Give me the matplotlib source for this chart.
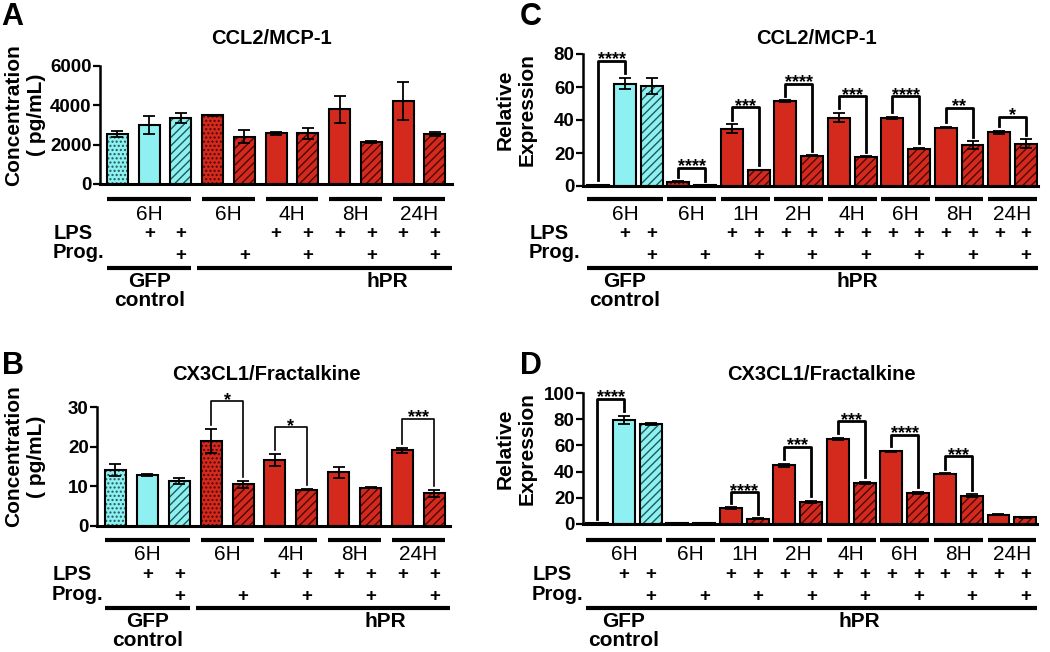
import matplotlib
matplotlib.use('Agg')
import matplotlib.pyplot as plt
import matplotlib.transforms as mtransforms
import numpy as np

plt.rcParams['font.family'] = ['Liberation Sans', 'DejaVu Sans']
plt.rcParams['hatch.linewidth'] = 1.0

W, H = 1050, 652
CYAN = '#8ef0f0'
RED = '#d42a1e'
CYAN_HATCH = '#1f5a5a'
RED_HATCH = '#4a0805'

# ---- panel A: CCL2/MCP-1 protein
a_vals = [2540, 3000, 3370, 3500, 2400, 2570, 2570, 3790, 2150, 4230, 2540]
a_errs = [150, 480, 250, 20, 330, 80, 290, 690, 50, 970, 80]
a_lps = [0, 1, 1, 0, 0, 1, 1, 1, 1, 1, 1]
a_prog = [0, 0, 1, 0, 1, 0, 1, 0, 1, 0, 1]
a_times = ['6H', '6H', '4H', '8H', '24H']
a_groups = [3, 2, 2, 2, 2]
a_brackets = []

# ---- panel B: CX3CL1/Fractalkine protein
b_vals = [14.1, 12.8, 11.3, 21.4, 10.5, 16.6, 9.2, 13.6, 9.7, 19.1, 8.2]
b_errs = [1.5, 0.3, 0.8, 3.1, 0.8, 1.5, 0.1, 1.4, 0.2, 0.6, 0.9]
b_lps = a_lps
b_prog = a_prog
b_times = ['6H', '6H', '4H', '8H', '24H']
b_groups = [3, 2, 2, 2, 2]
b_brackets = [(3, 4, 31.4, '*'), (5, 6, 24.9, '*'), (9, 10, 27.1, '***')]

# ---- panel C: CCL2/MCP-1 mRNA
c_vals = [0.8, 62.0, 60.7, 2.5, 0.4, 34.6, 9.7, 51.6, 18.2, 41.5, 17.8,
          41.5, 22.7, 35.4, 24.9, 32.6, 25.5]
c_errs = [0, 3.5, 4.8, 0.3, 0, 2.7, 0.3, 0.4, 0.3, 2.8, 0.3,
          0.6, 0.3, 0.5, 2.3, 1.0, 2.7]
c_lps = [0, 1, 1, 0, 0] + [1] * 12
c_prog = [0, 0, 1, 0, 1] + [0, 1] * 6
c_times = ['6H', '6H', '1H', '2H', '4H', '6H', '8H', '24H']
c_groups = [3, 2, 2, 2, 2, 2, 2, 2]
c_brackets = [(0, 1, 75.9, '****'), (3, 4, 11.1, '****'), (5, 6, 47.6, '***'),
              (7, 8, 61.8, '****'), (9, 10, 54.3, '***'), (11, 12, 54.3, '****'),
              (13, 14, 47.2, '**'), (15, 16, 42.1, '*')]

# ---- panel D: CX3CL1/Fractalkine mRNA
d_vals = [0.5, 79.6, 76.3, 0.5, 0.8, 12.2, 4.0, 44.8, 16.8, 64.9, 31.3,
          55.4, 23.6, 38.2, 21.6, 7.1, 5.0]
d_errs = [0, 3.0, 1.0, 0, 0, 0.4, 0.3, 1.0, 1.0, 0.8, 1.0,
          0.3, 0.8, 0.4, 1.0, 0.3, 0.3]
d_lps = c_lps
d_prog = c_prog
d_times = c_times
d_groups = c_groups
d_brackets = [(0, 1, 95.4, '****'), (5, 6, 24.1, '****'), (7, 8, 58.8, '***'),
              (9, 10, 78.3, '***'), (11, 12, 68.2, '****'), (13, 14, 51.6, '***')]


def fx(px):
    return px / W


def fy(py):
    return 1 - py / H


def panel(rect, vals, errs, lps, prog, times, groups, brackets,
          ymax, yticks, xlim, width, title, title_xy, ylabel, ylabel_x,
          letter, letter_xy, rows, lab_x, hpr_x, br_lw):
    l, r, t, b = rect
    ax = fig.add_axes([fx(l), fy(b), fx(r - l), (b - t) / H])
    n = len(vals)
    x = np.arange(n)
    ngfp = groups[0]
    for i in range(n):
        gfp = i < ngfp
        col = CYAN if gfp else RED
        hcol = CYAN_HATCH if gfp else RED_HATCH
        if prog[i]:
            hatch = '////'
        elif not lps[i]:
            hatch = '....'
        else:
            hatch = None
        ax.bar(x[i], vals[i], width, color=col, edgecolor=hcol,
               linewidth=0, hatch=hatch, zorder=2)
        ax.bar(x[i], vals[i], width, fill=False, edgecolor='black',
               linewidth=1.5, zorder=2)
    ax.errorbar(x, vals, yerr=errs, fmt='none', ecolor='black',
                elinewidth=1.3, capsize=4, capthick=1.3, zorder=3)
    ax.set_xlim(*xlim)
    ax.set_ylim(0, ymax)
    ax.set_yticks(yticks)
    ax.set_xticks([])
    for s in ['top', 'right']:
        ax.spines[s].set_visible(False)
    ax.spines['left'].set_linewidth(1.8)
    ax.spines['bottom'].set_linewidth(2.2)
    ax.tick_params(axis='y', width=1.6, length=5, labelsize=13.5, pad=1)
    for lab in ax.get_yticklabels():
        lab.set_fontweight('bold')

    gap = 0.035 * ymax
    for i, j, top, txt in brackets:
        yl = vals[i] + errs[i] + gap
        yr = vals[j] + errs[j] + gap
        ax.plot([x[i], x[i], x[j], x[j]], [yl, top, top, yr], color='black',
                lw=br_lw, clip_on=False, zorder=4)
        ax.annotate(txt, xy=((x[i] + x[j]) / 2, top), xytext=(0, -2.5),
                    textcoords='offset points', ha='center', va='baseline',
                    fontsize=13, fontweight='bold', annotation_clip=False)

    tr = mtransforms.blended_transform_factory(ax.transData, fig.transFigure)
    y_grp, y_time, y_lps, y_prog, y_base, y_name, y_ctrl = rows
    start = 0
    for g, tname in zip(groups, times):
        x0 = x[start] - width / 2
        x1 = x[start + g - 1] + width / 2
        ax.plot([x0, x1], [fy(y_grp)] * 2, color='black', lw=3,
                transform=tr, clip_on=False, solid_capstyle='butt')
        ax.text((x0 + x1) / 2, fy(y_time), tname, transform=tr, ha='center',
                va='center', fontsize=15)
        start += g
    for i in range(n):
        if lps[i]:
            ax.text(x[i], fy(y_lps), '+', transform=tr, ha='center',
                    va='center', fontsize=13.5, fontweight='bold')
        if prog[i]:
            ax.text(x[i], fy(y_prog), '+', transform=tr, ha='center',
                    va='center', fontsize=13.5, fontweight='bold')
    ax.plot([x[0] - width / 2, x[ngfp - 1] + width / 2], [fy(y_base)] * 2,
            color='black', lw=3, transform=tr, clip_on=False,
            solid_capstyle='butt')
    ax.plot([x[ngfp] - width / 2 - 0.15, xlim[1]], [fy(y_base)] * 2,
            color='black', lw=3, transform=tr, clip_on=False,
            solid_capstyle='butt')
    gc = (x[0] + x[ngfp - 1]) / 2
    ax.text(gc, fy(y_name), 'GFP', transform=tr, ha='center', va='center',
            fontsize=15, fontweight='bold')
    ax.text(gc, fy(y_ctrl), 'control', transform=tr, ha='center',
            va='center', fontsize=15, fontweight='bold')
    ax.text(hpr_x, fy(y_name), 'hPR', transform=tr, ha='center', va='center',
            fontsize=15, fontweight='bold')

    fig.text(fx(lab_x), fy(y_lps), 'LPS', ha='left', va='center',
             fontsize=14.5, fontweight='bold')
    fig.text(fx(lab_x - 1), fy(y_prog - 2), 'Prog.', ha='left', va='center',
             fontsize=14.5, fontweight='bold')

    fig.text(fx(title_xy[0]), fy(title_xy[1]), title, ha='center',
             va='center', fontsize=14.5, fontweight='bold')
    fig.text(fx(ylabel_x), fy((t + b) / 2 - 10), ylabel, rotation=90,
             ha='center', va='center', fontsize=15, fontweight='bold',
             multialignment='center', linespacing=1.25)
    fig.text(fx(letter_xy[0]), fy(letter_xy[1]), letter, ha='left',
             va='top', fontsize=22, fontweight='bold')
    return ax


fig = plt.figure(figsize=(10.5, 6.52), dpi=100)

top_rows = (199, 214, 233, 255, 268, 281.5, 300)
bot_rows = (540, 554, 574, 596, 607.5, 621.5, 640)

panel((100, 452, 66, 184), a_vals, a_errs, a_lps, a_prog, a_times, a_groups,
      a_brackets, 6000, [0, 2000, 4000, 6000], (-0.55, 10.54), 0.66,
      'CCL2/MCP-1', (271, 38), 'Concentration\n( pg/mL)', 25,
      'A', (1, 2), top_rows, 54, 8.5, 1.2)

panel((97, 450, 407, 526), b_vals, b_errs, b_lps, b_prog, b_times, b_groups,
      b_brackets, 30, [0, 10, 20, 30], (-0.58, 10.49), 0.66,
      'CX3CL1/Fractalkine', (266, 375), 'Concentration\n( pg/mL)', 25,
      'B', (2, 351), bot_rows, 53, 8.45, 1.2)

panel((583, 1038, 54, 186), c_vals, c_errs, c_lps, c_prog, c_times, c_groups,
      c_brackets, 80, [0, 20, 40, 60, 80], (-0.57, 16.45), 0.82,
      'CCL2/MCP-1', (816, 38), 'Relative\nExpression', 516,
      'C', (520, 2), top_rows, 530, 9.7, 2.0)

panel((583, 1037, 393, 524), d_vals, d_errs, d_lps, d_prog, d_times, d_groups,
      d_brackets, 100, [0, 20, 40, 60, 80, 100], (-0.53, 16.44), 0.82,
      'CX3CL1/Fractalkine', (821, 375), 'Relative\nExpression', 516,
      'D', (520, 351), bot_rows, 533, 9.78, 2.0)

fig.savefig('out.png', dpi=100)
